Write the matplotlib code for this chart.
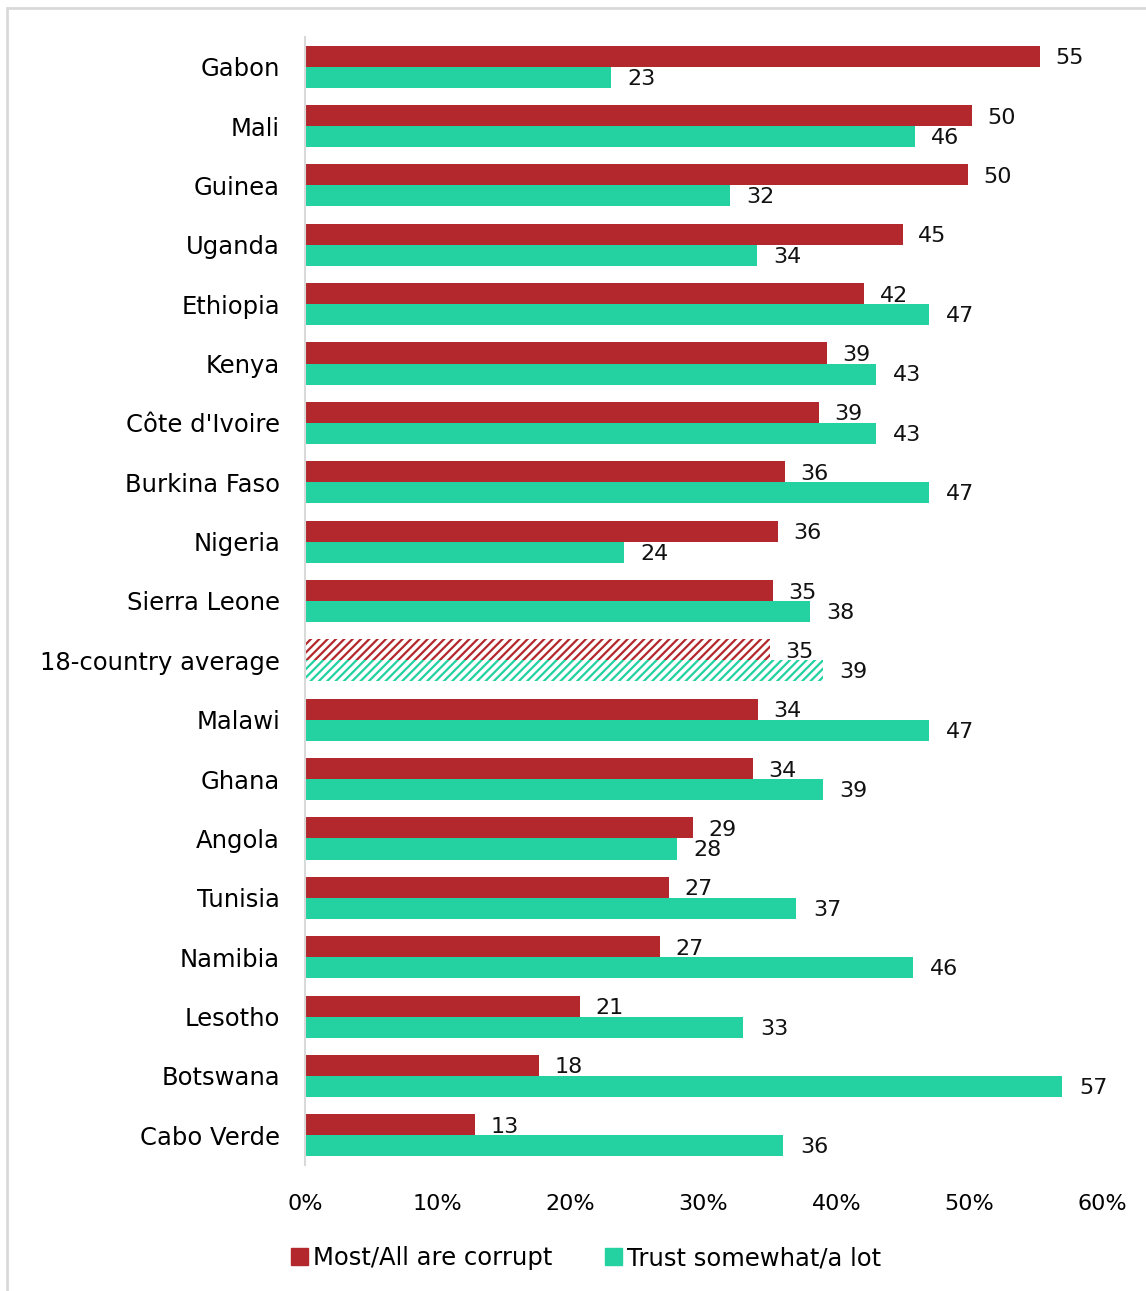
import numpy as np
import matplotlib.pyplot as plt
from matplotlib.patches import Rectangle, Patch

# data
countries = ["Gabon", "Mali", "Guinea", "Uganda", "Ethiopia", "Kenya",
             "Côte d'Ivoire", "Burkina Faso", "Nigeria", "Sierra Leone",
             "18-country average", "Malawi", "Ghana", "Angola", "Tunisia",
             "Namibia", "Lesotho", "Botswana", "Cabo Verde"]
corrupt = [55.3, 50.2, 49.9, 45.0, 42.1, 39.3, 38.7, 36.1, 35.6, 35.2,
           35.0, 34.1, 33.7, 29.2, 27.4, 26.7, 20.7, 17.6, 12.8]
trust = [23.0, 45.9, 32.0, 34.0, 47.0, 43.0, 43.0, 47.0, 24.0, 38.0,
         39.0, 47.0, 39.0, 28.0, 37.0, 45.8, 33.0, 57.0, 36.0]
xticks = [0, 10, 20, 30, 40, 50, 60]

RED = "#B3282D"
TEAL = "#23D1A1"

plt.rcParams['font.family'] = ['DejaVu Sans']
plt.rcParams['hatch.linewidth'] = 1.6

fig = plt.figure(figsize=(11.46, 12.91), dpi=100)
ax = fig.add_axes([305/1146, 1 - 1165/1291, (1102-305)/1146, (1165-37)/1291])

# light frame (left and top edges visible)
fig.patches.append(Rectangle((7/1146, -0.1), 1.2, 1 - 8/1291 + 0.1,
                             transform=fig.transFigure, fill=False,
                             edgecolor="#D9D9D9", linewidth=2))

y = np.arange(len(countries))
h = 0.355
avg = countries.index("18-country average")

for i in y:
    if i == avg:
        ax.barh(i - h/2, corrupt[i], height=h, facecolor="white",
                edgecolor=RED, linewidth=0, hatch="////")
        ax.barh(i + h/2, trust[i], height=h, facecolor="white",
                edgecolor=TEAL, linewidth=0, hatch="////")
    else:
        ax.barh(i - h/2, corrupt[i], height=h, color=RED)
        ax.barh(i + h/2, trust[i], height=h, color=TEAL)
    ax.annotate(f"{corrupt[i]:.0f}", (corrupt[i], i - h/2), xytext=(11, -1.5),
                textcoords="offset points", va="center", ha="left",
                fontsize=16, color="#111111")
    ax.annotate(f"{trust[i]:.0f}", (trust[i], i + h/2), xytext=(12, -1),
                textcoords="offset points", va="center", ha="left",
                fontsize=16, color="#111111")

ax.set_ylim(len(countries) - 0.5, -0.5)
ax.set_xlim(0, 60)
ax.set_yticks(y)
ax.set_yticklabels(countries, fontsize=17.5)
ax.set_xticks(xticks)
ax.set_xticklabels([f"{t}%" for t in xticks], fontsize=16)
ax.tick_params(axis="both", length=0)
ax.tick_params(axis="y", pad=18)
ax.tick_params(axis="x", pad=21)
for s in ["top", "right", "bottom"]:
    ax.spines[s].set_visible(False)
ax.spines["left"].set_color("#D9D9D9")
ax.spines["left"].set_linewidth(1.5)

handles = [Patch(color=RED, label="Most/All are corrupt"),
           Patch(color=TEAL, label="Trust somewhat/a lot")]
fig.legend(handles=handles, loc="center", bbox_to_anchor=(586/1146, 1 - 1258/1291),
           ncol=2, frameon=False, fontsize=17.5, handlelength=0.7,
           handleheight=0.7, handletextpad=0.2, columnspacing=2.2)

fig.savefig("out.png", dpi=100)
